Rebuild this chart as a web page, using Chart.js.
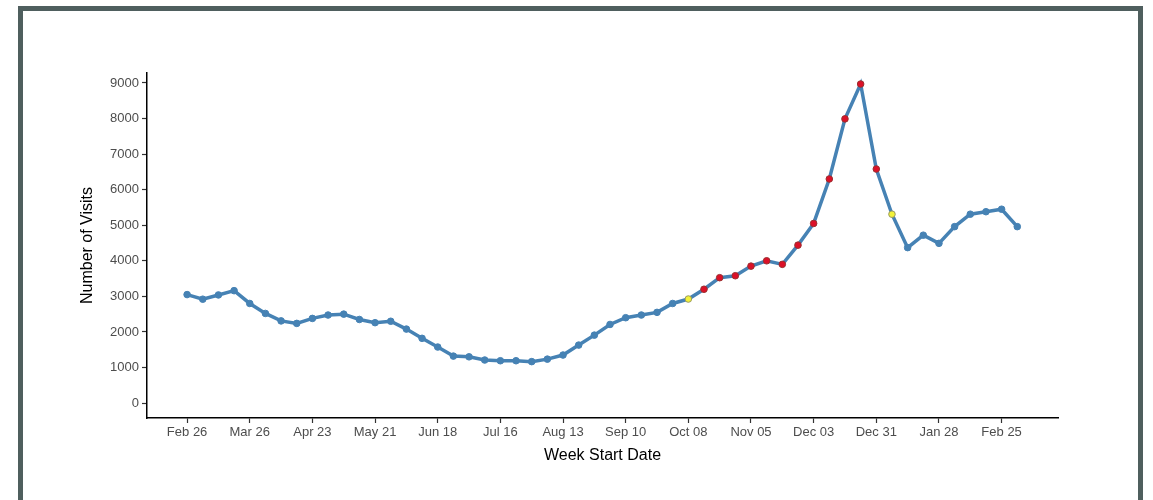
<!DOCTYPE html>
<html lang="en">
<head>
    <meta charset="UTF-8">
    <title>Weekly Visits</title>
    <script src="https://cdn.jsdelivr.net/npm/chart.js@4.4.1/dist/chart.umd.min.js"></script>
    <style>
        html, body { margin: 0; padding: 0; background: #fff; overflow: hidden; }
        #frame {
            position: absolute; left: 18px; top: 6px; width: 1115px; height: 520px;
            border: 5px solid #4f5f5e; box-sizing: content-box;
        }
        #wrap { position: absolute; left: 0; top: 0; width: 1153px; height: 500px; }
    </style>
</head>
<body>
    <div id="frame"></div>
    <div id="wrap"><canvas id="visitsChart"></canvas></div>

    <script>
        const weeks = [
            'Feb 26','Mar 05','Mar 12','Mar 19','Mar 26','Apr 02','Apr 09','Apr 16','Apr 23','Apr 30',
            'May 07','May 14','May 21','May 28','Jun 04','Jun 11','Jun 18','Jun 25','Jul 02','Jul 09',
            'Jul 16','Jul 23','Jul 30','Aug 06','Aug 13','Aug 20','Aug 27','Sep 03','Sep 10','Sep 17',
            'Sep 24','Oct 01','Oct 08','Oct 15','Oct 22','Oct 29','Nov 05','Nov 12','Nov 19','Nov 26',
            'Dec 03','Dec 10','Dec 17','Dec 24','Dec 31','Jan 07','Jan 14','Jan 21','Jan 28','Feb 04',
            'Feb 11','Feb 18','Feb 25','Mar 04'
        ];
        const visits = [
            3050, 2920, 3040, 3160, 2800, 2520, 2310, 2240, 2380, 2475,
            2500, 2350, 2260, 2300, 2080, 1820, 1575, 1320, 1300, 1210,
            1190, 1190, 1165, 1235, 1350, 1630, 1910, 2210, 2400, 2475,
            2550, 2800, 2925, 3200, 3525, 3580, 3850, 4000, 3900, 4440,
            5050, 6300, 7990, 8970, 6580, 5310, 4370, 4720, 4490, 4960,
            5310, 5380, 5450, 4960
        ];
        // 'n' normal, 'y' yellow flag, 'r' red flag
        const flags = [
            'n','n','n','n','n','n','n','n','n','n',
            'n','n','n','n','n','n','n','n','n','n',
            'n','n','n','n','n','n','n','n','n','n',
            'n','n','y','r','r','r','r','r','r','r',
            'r','r','r','r','r','y','n','n','n','n',
            'n','n','n','n'
        ];
        const tickWeeks = ['Feb 26','Mar 26','Apr 23','May 21','Jun 18','Jul 16','Aug 13','Sep 10','Oct 08','Nov 05','Dec 03','Dec 31','Jan 28','Feb 25'];
        const yTicks = [0, 1000, 2000, 3000, 4000, 5000, 6000, 7000, 8000, 9000];

        const lineColor = '#4682b4';
        const fill = { n: lineColor, y: '#f2f23a', r: '#dc1028' };
        const edge = { n: lineColor, y: '#9a9a60', r: '#9a3030' };

        const points = visits.map((v, i) => ({ x: i, y: v }));
        const tickFont = { family: 'Liberation Sans, Arial, sans-serif', size: 13 };
        const titleFont = { family: 'Liberation Sans, Arial, sans-serif', size: 16 };
        const axisGrid = { display: true, drawOnChartArea: false, drawTicks: true, tickLength: 5, tickColor: '#333', tickWidth: 1.2 };

        new Chart(document.getElementById('visitsChart'), {
            type: 'line',
            data: {
                datasets: [{
                    data: points,
                    borderColor: lineColor,
                    borderWidth: 3.5,
                    tension: 0,
                    pointRadius: 3.3,
                    pointBorderWidth: 1,
                    pointBackgroundColor: flags.map(f => fill[f]),
                    pointBorderColor: flags.map(f => edge[f])
                }]
            },
            options: {
                responsive: true,
                maintainAspectRatio: false,
                animation: false,
                layout: { padding: { left: 78, right: 95, top: 73, bottom: 31 } },
                plugins: { legend: { display: false }, tooltip: { enabled: false } },
                scales: {
                    x: {
                        type: 'linear',
                        min: -2.56,
                        max: 55.6,
                        afterFit: s => { s.height = 51; },
                        afterBuildTicks: s => {
                            s.ticks = tickWeeks.map(w => ({ value: weeks.indexOf(w) }));
                        },
                        grid: axisGrid,
                        border: { display: true, color: '#000', width: 1.5 },
                        ticks: {
                            color: '#4d4d4d', font: tickFont, padding: 2, maxRotation: 0, autoSkip: false,
                            callback: v => weeks[v]
                        },
                        title: { display: true, text: 'Week Start Date', color: '#000', font: titleFont, padding: { top: 0, bottom: 4 } }
                    },
                    y: {
                        min: -420,
                        max: 9280,
                        afterFit: s => { s.width = 69; },
                        afterBuildTicks: s => { s.ticks = yTicks.map(v => ({ value: v })); },
                        grid: axisGrid,
                        border: { display: true, color: '#000', width: 1.5 },
                        ticks: { color: '#4d4d4d', font: tickFont, padding: 3, callback: v => String(v) },
                        title: { display: true, text: 'Number of Visits', color: '#000', font: titleFont, padding: { top: 0, bottom: 0 } }
                    }
                }
            }
        });
    </script>
</body>
</html>
